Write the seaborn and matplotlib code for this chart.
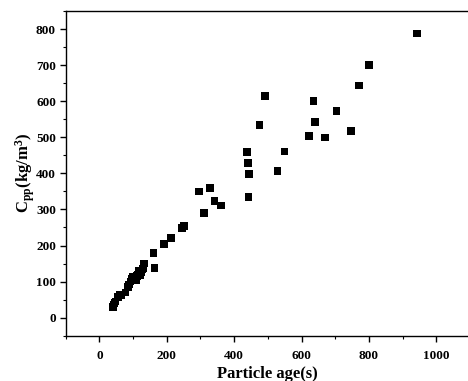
import matplotlib
matplotlib.use("Agg")
import matplotlib.pyplot as plt
import seaborn as sns
import pandas as pd
from matplotlib.ticker import MultipleLocator

particle_age = [40, 42, 45, 48, 55, 60, 65, 78, 85, 88, 92, 95, 100, 105, 110,
                112, 115, 118, 122, 125, 128, 133, 131, 161, 163, 192, 212, 245,
                252, 295, 311, 328, 342, 361, 438, 441, 444, 443, 475, 492, 529,
                550, 622, 635, 640, 669, 704, 747, 771, 801, 942]
cpp = [30, 35, 40, 45, 58, 62, 63, 70, 85, 92, 100, 108, 112, 110, 105,
       115, 120, 130, 118, 125, 135, 150, 138, 180, 137, 205, 220, 249,
       254, 350, 290, 359, 324, 311, 460, 428, 399, 334, 534, 615, 407,
       461, 504, 601, 542, 499, 572, 518, 643, 700, 788]

df = pd.DataFrame({"age": particle_age, "cpp": cpp})

sns.set_style("ticks")
plt.rcParams["font.family"] = ["Liberation Serif", "DejaVu Serif"]
plt.rcParams["font.weight"] = "bold"
plt.rcParams["mathtext.fontset"] = "custom"
plt.rcParams["mathtext.bf"] = "Liberation Serif:bold"
plt.rcParams["mathtext.rm"] = "Liberation Serif:bold"
plt.rcParams["mathtext.it"] = "Liberation Serif:bold"
for k in ["axes.edgecolor", "xtick.color", "ytick.color", "axes.labelcolor", "text.color"]:
    plt.rcParams[k] = "black"

fig = plt.figure(figsize=(4.68, 3.81), dpi=100)
ax = fig.add_axes([65.7 / 468, 45.3 / 381, (470 - 65.7) / 468, (335.7 - 11) / 381])

sns.scatterplot(data=df, x="age", y="cpp", marker="s", color="black",
                edgecolor="none", s=30, ax=ax, legend=False)

ax.set_xlim(-100, 1100)
ax.set_ylim(-50, 850)
ax.xaxis.set_major_locator(MultipleLocator(200))
ax.xaxis.set_minor_locator(MultipleLocator(100))
ax.yaxis.set_major_locator(MultipleLocator(100))
ax.yaxis.set_minor_locator(MultipleLocator(50))
ax.tick_params(which="major", direction="out", length=4, width=1, labelsize=9.5)
ax.tick_params(axis="x", which="major", pad=6)
ax.tick_params(axis="y", which="major", pad=3)
ax.tick_params(which="minor", direction="out", length=2.5, width=0.8)
ax.tick_params(top=False, right=False, which="both")
for lab in ax.get_xticklabels() + ax.get_yticklabels():
    lab.set_fontweight("bold")
for sp in ax.spines.values():
    sp.set_visible(True)
    sp.set_linewidth(1)
    sp.set_color("black")

ax.set_xlabel("Particle age(s)", fontsize=12, fontweight="bold", labelpad=3)
ax.set_ylabel(r"C$_{\mathrm{pp}}$(kg/m$^{\mathrm{3}}$)", fontsize=12, fontweight="bold", labelpad=-1)

fig.savefig("out.png", dpi=100)
